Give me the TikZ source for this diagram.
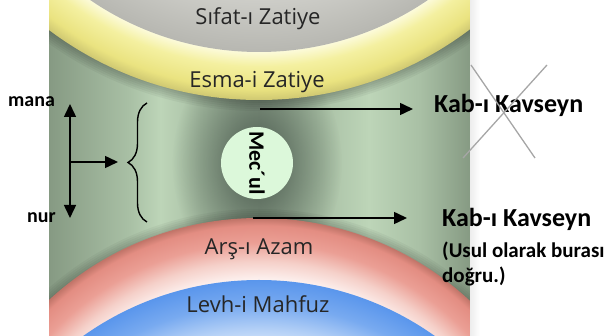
\documentclass[tikz,border=0pt]{standalone}
\usepackage{fontspec}
\setmainfont{Carlito}
\newfontfamily\ringfont{Open Sans}
\usepackage{tikz}
\usetikzlibrary{positioning,
        arrows.meta,
        decorations.pathreplacing,
        fadings}
\usepackage{xcolor}

\definecolor{panelEdge}{HTML}{869A83}
\definecolor{panelMid}{HTML}{A9C0A5}
\definecolor{panelLight}{HTML}{BDD5B8}
\definecolor{panelDark}{HTML}{9CB098}
\definecolor{sifatIn}{HTML}{E4E4E0}
\definecolor{sifatMid}{HTML}{D0D0CB}
\definecolor{sifatOut}{HTML}{B7B7B1}
\definecolor{esmaIn}{HTML}{FDFCE2}
\definecolor{esmaMid}{HTML}{F4F0A0}
\definecolor{esmaOut}{HTML}{EAE380}
\definecolor{esmaRim}{HTML}{CFC872}
\definecolor{arsIn}{HTML}{FDF2F0}
\definecolor{arsPale}{HTML}{F5D0C9}
\definecolor{arsMid}{HTML}{EB9F95}
\definecolor{arsOut}{HTML}{E38D82}
\definecolor{arsRim}{HTML}{C07468}
\definecolor{levhIn}{HTML}{E6F0FD}
\definecolor{levhPale}{HTML}{B2CFF6}
\definecolor{levhMid}{HTML}{78AAF0}
\definecolor{levhOut}{HTML}{5A96EC}
\definecolor{meculFill}{HTML}{DCF8DA}
\definecolor{haloCol}{HTML}{34423A}
\definecolor{crossCol}{HTML}{A6A6A6}

\pgfdeclarehorizontalshading{panelshade}{100bp}{color(0bp)=(panelEdge); color(25bp)=(panelEdge);
  color(34.6bp)=(panelMid); color(38.2bp)=(panelLight); color(43bp)=(panelMid); color(50bp)=(panelDark);
  color(57bp)=(panelMid); color(63bp)=(panelLight); color(69bp)=(panelMid); color(75bp)=(panelEdge);
  color(100bp)=(panelEdge)}
\pgfdeclareradialshading{sifatshade}{\pgfpointorigin}{color(0bp)=(sifatIn); color(20bp)=(sifatMid);
  color(25bp)=(sifatOut); color(50bp)=(sifatOut)}
\pgfdeclareradialshading{esmashade}{\pgfpointorigin}{color(0bp)=(esmaIn); color(21.4bp)=(esmaIn);
  color(22.6bp)=(esmaMid); color(24.2bp)=(esmaOut); color(25bp)=(esmaRim); color(50bp)=(esmaRim)}
\pgfdeclareradialshading{arsshade}{\pgfpointorigin}{color(0bp)=(white); color(20bp)=(arsIn);
  color(21.5bp)=(arsPale); color(23bp)=(arsMid); color(24.4bp)=(arsOut); color(25bp)=(arsRim);
  color(50bp)=(arsRim)}
\pgfdeclareradialshading{levhshade}{\pgfpointorigin}{color(0bp)=(white); color(19bp)=(levhIn);
  color(21bp)=(levhPale); color(23bp)=(levhMid); color(25bp)=(levhOut); color(50bp)=(levhOut)}
\tikzfading[name=halofade, inner color=transparent!20, outer color=transparent!100]

\begin{document}
\begin{tikzpicture}[x=1pt,y=-1pt,
    ringlbl/.style={inner sep=0pt,anchor=base,font=\ringfont\fontsize{22}{26}\selectfont,text=black!85},
    kablbl/.style={inner sep=0pt,anchor=base west,font=\bfseries\fontsize{26}{30}\selectfont},
    notelbl/.style={inner sep=0pt,anchor=base west,font=\bfseries\fontsize{21}{25}\selectfont},
    sidelbl/.style={inner sep=0pt,anchor=base west,font=\bfseries\fontsize{20}{24}\selectfont},
    arr/.style={-{Triangle[length=13pt,width=12pt]},line width=1.5pt},
    arrboth/.style={{Triangle[length=13pt,width=12pt]}-{Triangle[length=13pt,width=12pt]},line width=1.5pt},
    crossline/.style={crossCol,line width=1.3pt}]
    \useasboundingbox (0,0) rectangle (606,336);

    % panel and rings
    \begin{scope}
        \clip (49,0) rectangle (470,336);
        \shade[shading=panelshade] (49,0) rectangle (470,336);
        \fill[haloCol,path fading=halofade] (257,163) ellipse (85pt and 115pt);
        \foreach \r in {351,353,...,361}
            \fill[black,opacity=0.045] (259,-250) circle (\r pt);
        \shade[shading=esmashade] (259,-250) circle (350pt);
        \shade[shading=sifatshade] (259,-248) circle (300pt);
        \foreach \r in {311,313,...,319}
            \fill[black,opacity=0.04] (259,528) circle (\r pt);
        \shade[shading=arsshade] (259,528) circle (310pt);
        \shade[shading=levhshade] (259,584) circle (304pt);
    \end{scope}
    \shade[left color=gray!14,right color=white] (470,0) rectangle (480,336);

    \node [ringlbl] (sifat) at (258,25) {Sıfat-ı Zatiye};
    \node [ringlbl] (esma) at (257,88) {Esma-i Zatiye};
    \node [ringlbl] (ars) at (259,255) {Arş-ı Azam};
    \node [ringlbl] (levh) at (258,313) {Levh-i Mahfuz};
    \node [circle,fill=meculFill,minimum size=72pt,inner sep=0pt,rotate=-90,
           font=\bfseries\fontsize{22}{26}\selectfont] (mecul) at (257,163) {Mec´ul};

    % right side
    \node [kablbl] (kab1) at (434,113) {Kab-ı Kavseyn};
    \node [kablbl] (kab2) at (442,227) {Kab-ı Kavseyn};
    \node [notelbl] (usul) at (442,258) {(Usul olarak burası};
    \node [notelbl] (dogru) at (442,283) {doğru.)};
    \coordinate (a1) at (260,109);
    \coordinate (a2) at (253,218);
    \draw [arr,shorten >=21pt] (a1) -- (a1 -| kab1.west);
    \draw [arr,shorten >=35pt] (a2) -- (a2 -| kab2.west);
    \coordinate (x1a) at (471,65);
    \coordinate (x1b) at (535,158);
    \coordinate (x2a) at (547,65);
    \coordinate (x2b) at (463,158);
    \draw [crossline] (x1a) -- (x1b);
    \draw [crossline] (x2a) -- (x2b);

    % left side
    \node [sidelbl] (mana) at (8,107) {mana};
    \node [sidelbl] (nur) at (27,223) {nur};
    \coordinate (up) at (70,104);
    \coordinate (dn) at (70,218);
    \coordinate (mid) at (70,162);
    \coordinate (rt) at (118,162);
    \coordinate (brtop) at (147,103);
    \coordinate (brbot) at (147,222);
    \draw [arrboth] (dn) -- (up);
    \draw [arr] (mid) -- (rt);
    \draw [decorate,decoration={brace,amplitude=19pt},line width=1.4pt] (brbot) -- (brtop);
\end{tikzpicture}
\end{document}
